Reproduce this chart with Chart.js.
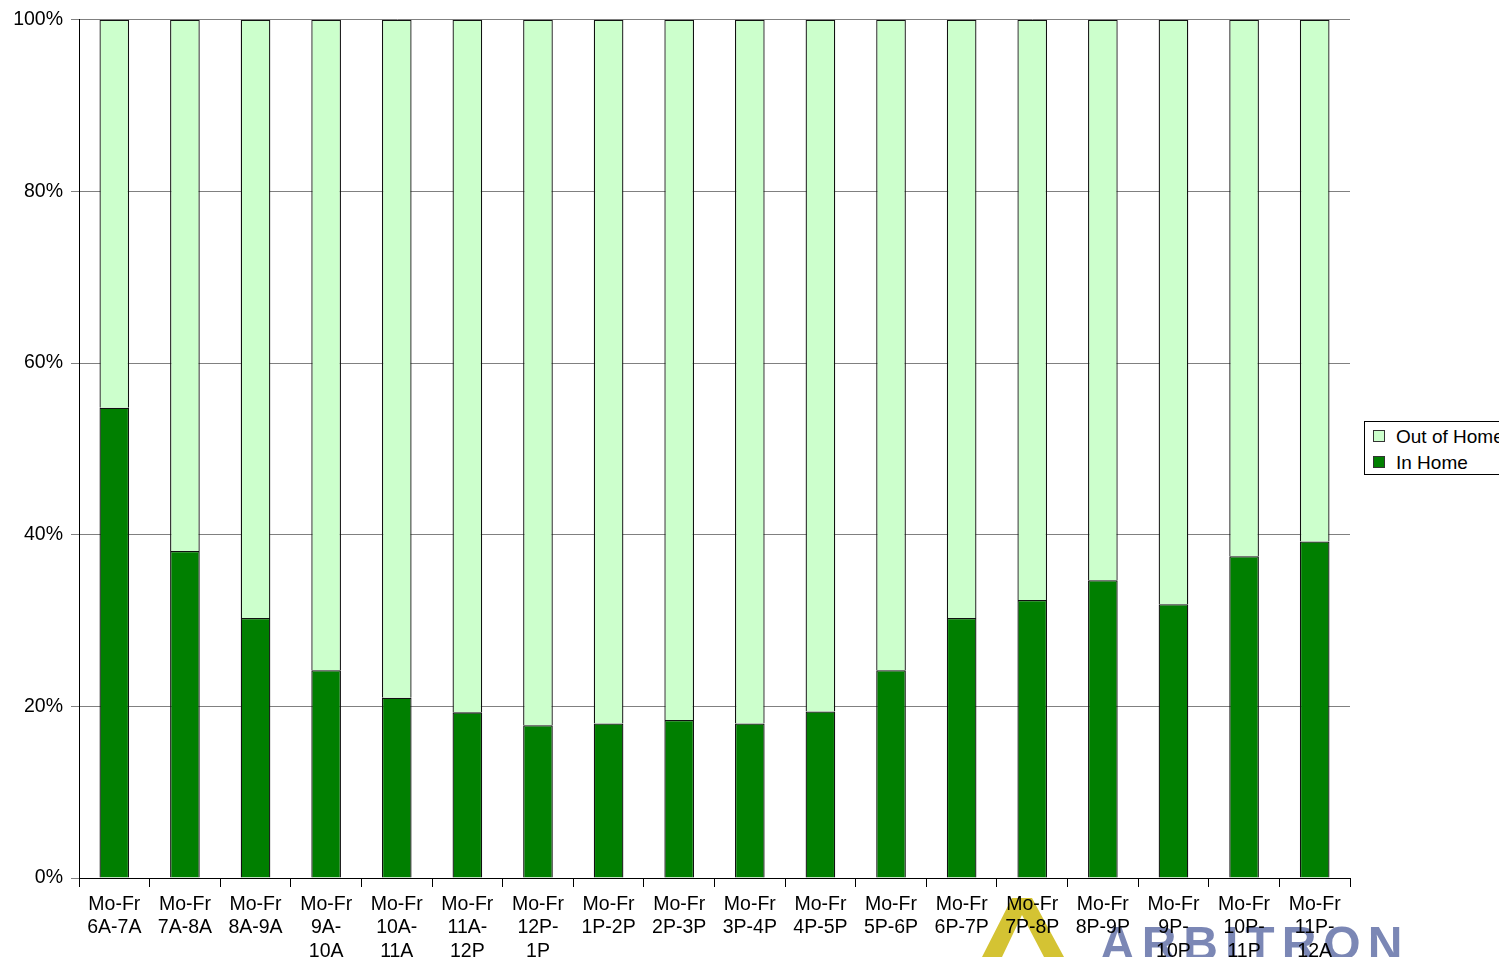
<!DOCTYPE html>
<html>
<head>
<meta charset="utf-8">
<title>In Home / Out of Home by daypart</title>
<script src="https://cdn.jsdelivr.net/npm/chart.js@4.4.1/dist/chart.umd.min.js"></script>
<style>
  html, body { margin: 0; padding: 0; background: #fff; overflow: hidden; }
  #wrap { position: relative; width: 1499px; height: 957px; }
  canvas { display: block; }
  #legend {
    position: absolute; left: 1364px; top: 421px; width: 150px; height: 52px;
    border: 1px solid #000; background: #fff;
    font-family: "Liberation Sans", Arial, sans-serif; font-size: 19px; color: #000;
  }
  .item { position: absolute; left: 8px; height: 22px; line-height: 22px; white-space: nowrap; }
  .sw { display: inline-block; width: 10px; height: 10px; border: 1px solid #333; vertical-align: middle; margin-right: 11px; position: relative; top: -2px; }
</style>
</head>
<body>
<div id="wrap">
  <canvas id="c" width="1499" height="957"></canvas>
  <div id="legend">
    <div class="item" style="top:4px"><span class="sw" style="background:#CCFFCC"></span>Out of Home</div>
    <div class="item" style="top:30px"><span class="sw" style="background:#007F00"></span>In Home</div>
  </div>
</div>
<script>
// Weekday dayparts (each label split over lines as in the axis)
const categories = [
  ["Mo-Fr", "6A-7A"], ["Mo-Fr", "7A-8A"], ["Mo-Fr", "8A-9A"], ["Mo-Fr", "9A-", "10A"],
  ["Mo-Fr", "10A-", "11A"], ["Mo-Fr", "11A-", "12P"], ["Mo-Fr", "12P-", "1P"], ["Mo-Fr", "1P-2P"],
  ["Mo-Fr", "2P-3P"], ["Mo-Fr", "3P-4P"], ["Mo-Fr", "4P-5P"], ["Mo-Fr", "5P-6P"],
  ["Mo-Fr", "6P-7P"], ["Mo-Fr", "7P-8P"], ["Mo-Fr", "8P-9P"], ["Mo-Fr", "9P-", "10P"],
  ["Mo-Fr", "10P-", "11P"], ["Mo-Fr", "11P-", "12A"]
];

// Share of listening, percent
const inHome    = [54.8, 38.1, 30.3, 24.2, 21.0, 19.3, 17.8, 18.0, 18.4, 18.0, 19.4, 24.2, 30.3, 32.4, 34.7, 31.9, 37.5, 39.2];
const outOfHome = [45.2, 61.9, 69.7, 75.8, 79.0, 80.7, 82.2, 82.0, 81.6, 82.0, 80.6, 75.8, 69.7, 67.6, 65.3, 68.1, 62.5, 60.8];

const yTicks = [0, 20, 40, 60, 80, 100];

const FONT = "'Liberation Sans', Arial, sans-serif";

// Company logo sitting beneath the axis labels
const logoPlugin = {
  id: 'logo',
  beforeDraw(chart) {
    const ctx = chart.ctx;
    ctx.save();
    ctx.globalAlpha = 0.8;
    ctx.fillStyle = '#C9B400';
    ctx.beginPath();
    ctx.moveTo(1012, 898);
    ctx.lineTo(1032, 898);
    ctx.lineTo(1064, 957);
    ctx.lineTo(1044, 957);
    ctx.lineTo(1022, 915);
    ctx.lineTo(1002, 957);
    ctx.lineTo(982, 957);
    ctx.closePath();
    ctx.fill();
    ctx.globalAlpha = 0.75;
    ctx.fillStyle = '#4F5F9C';
    ctx.font = 'bold 48px ' + FONT;
    ctx.textBaseline = 'alphabetic';
    if ('letterSpacing' in ctx) ctx.letterSpacing = '7px';
    ctx.fillText('ARBITRON', 1100, 960);
    ctx.restore();
  }
};

new Chart(document.getElementById('c'), {
  type: 'bar',
  data: {
    labels: categories,
    datasets: [
      { label: 'In Home', data: inHome, backgroundColor: '#007F00', borderColor: '#111', borderWidth: 1.3,
        categoryPercentage: 1.0, barPercentage: 0.42 },
      { label: 'Out of Home', data: outOfHome, backgroundColor: '#CCFFCC', borderColor: '#111', borderWidth: 1.3,
        categoryPercentage: 1.0, barPercentage: 0.42 }
    ]
  },
  options: {
    responsive: false,
    animation: false,
    devicePixelRatio: 1,
    layout: { padding: { top: 19, right: 149, left: 0, bottom: 0 } },
    plugins: { legend: { display: false }, tooltip: { enabled: false } },
    scales: {
      x: {
        stacked: true,
        grid: { display: true, drawOnChartArea: false, drawTicks: true, tickLength: 9, color: '#000', offset: true },
        border: { display: true, color: '#000', width: 1 },
        ticks: { color: '#000', font: { family: FONT, size: 19.5 }, maxRotation: 0, autoSkip: false, padding: 6 },
        afterFit(scale) { scale.height = 79; }
      },
      y: {
        stacked: true,
        min: 0, max: 100,
        afterBuildTicks(scale) { scale.ticks = yTicks.map(v => ({ value: v })); },
        grid: { color: '#808080', lineWidth: 1, tickLength: 8, drawTicks: true },
        border: { display: true, color: '#000', width: 1 },
        ticks: { color: '#000', font: { family: FONT, size: 19.5 }, padding: 8,
                 callback: v => v + '%' },
        afterFit(scale) { scale.width = 79; }
      }
    }
  },
  plugins: [logoPlugin]
});
</script>
</body>
</html>
